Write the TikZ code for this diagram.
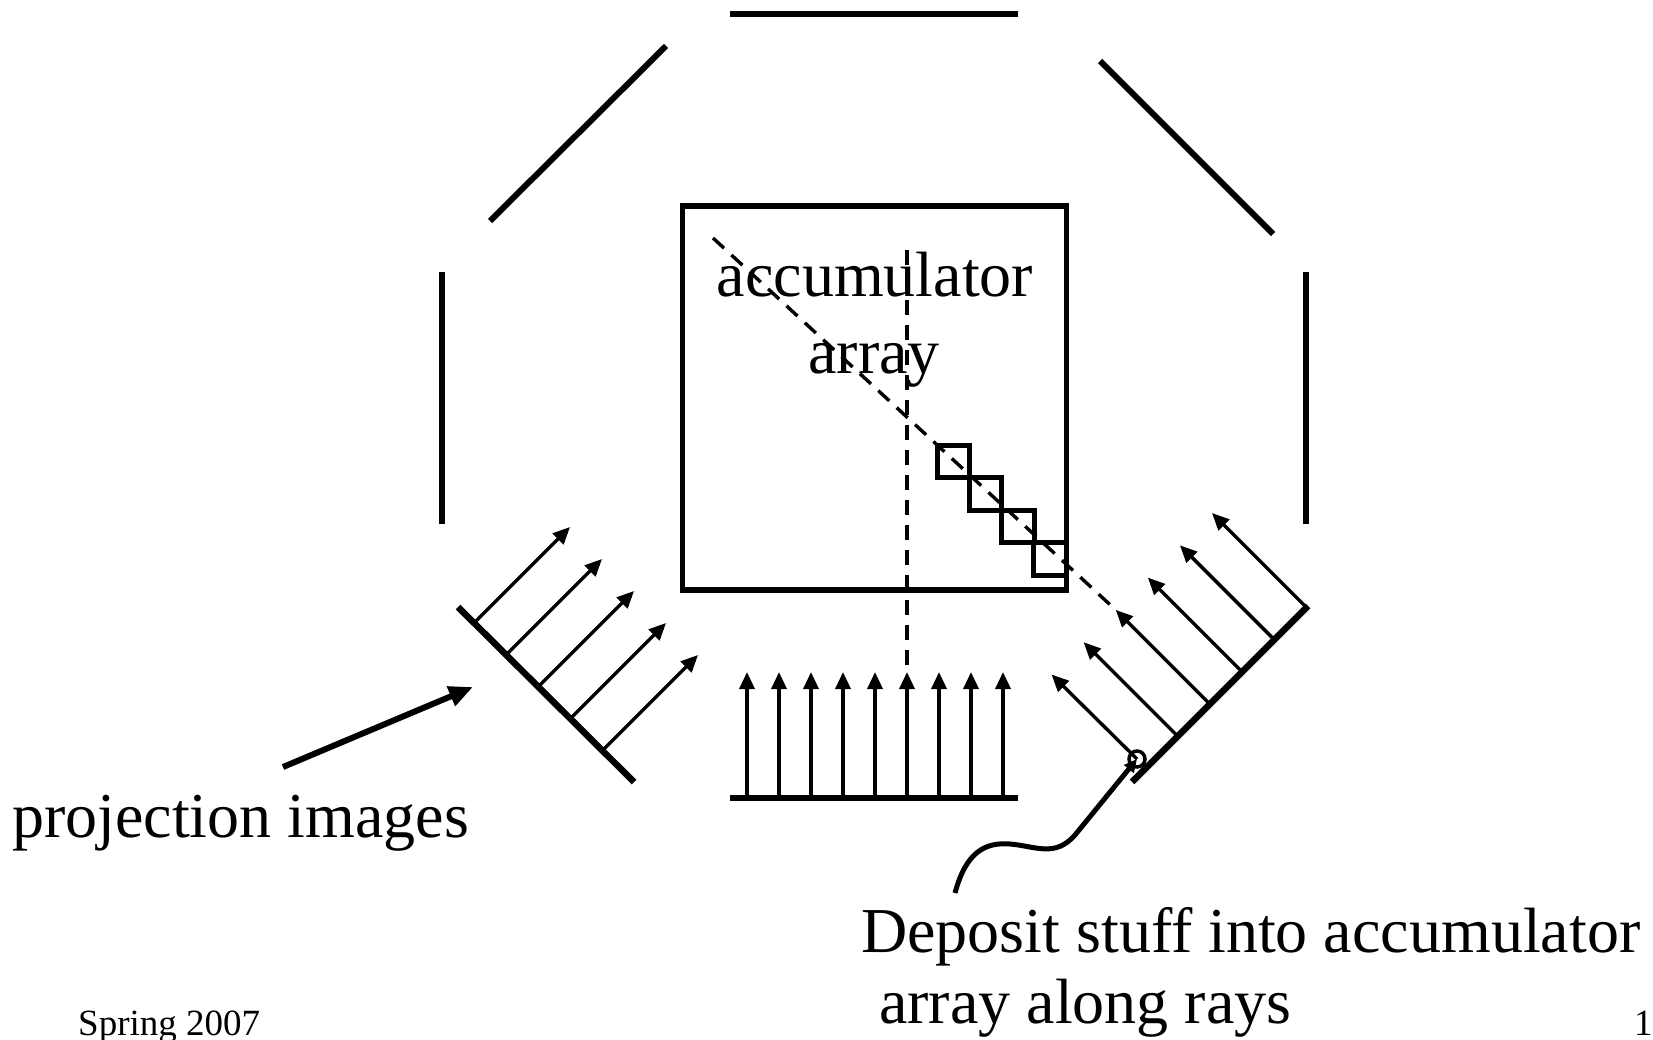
\documentclass[tikz,border=0pt]{standalone}
\usepackage{fontspec}
\setmainfont{Liberation Serif}
\usetikzlibrary{arrows.meta,calc}
\begin{document}
\begin{tikzpicture}[x=1pt,y=-1pt,
  seg/.style={line width=6pt},
  det/.style={line width=6.5pt},
  ray/.style={line width=3.4pt,-{Triangle[length=17pt,width=15pt]}},
  dray/.style={line width=3.4pt,dash pattern=on 15pt off 10pt},
  pix/.style={line width=5pt},
  lbl/.style={inner sep=0pt,font=\fontsize{64}{72}\selectfont},
  small/.style={inner sep=0pt,font=\fontsize{37}{40}\selectfont},
  pointer/.style={line width=6pt,-{Triangle[length=24pt,width=20pt]}},
  wavy/.style={line width=5pt,-{Triangle[length=13pt,width=12pt]}}]
\useasboundingbox (0,0) rectangle (1653,1040);

% octagon frame segments
\coordinate (t1) at (730,14);   \coordinate (t2) at (1018,14);
\coordinate (ul1) at (490,221); \coordinate (ul2) at (666,46);
\coordinate (ur1) at (1100,61); \coordinate (ur2) at (1273,234);
\coordinate (l1) at (442,272);  \coordinate (l2) at (442,524);
\coordinate (r1) at (1306,272); \coordinate (r2) at (1306,524);
\draw[seg] (t1) -- (t2);
\draw[seg] (ul1) -- (ul2);
\draw[seg] (ur1) -- (ur2);
\draw[seg] (l1) -- (l2);
\draw[seg] (r1) -- (r2);

% detectors
\coordinate (dl1) at (458,607);  \coordinate (dl2) at (634,782);
\coordinate (db1) at (730,798);  \coordinate (db2) at (1018,798);
\coordinate (dr1) at (1308,606); \coordinate (dr2) at (1132,782);
\draw[det] (dl1) -- (dl2);
\draw[det] (db1) -- (db2);
\draw[det] (dr1) -- (dr2);

% accumulator box
\node[draw,line width=5.5pt,minimum width=384pt,minimum height=384pt,inner sep=0pt] (box) at (874.5,398) {};

% pixels along ray
\foreach \k in {0,...,3}{
  \draw[pix] ({937+32.3*\k},{445+32.5*\k}) rectangle ++(32.5,32.5);
}

% lower-left rays
\foreach \k in {0,...,4}{
  \coordinate (llt\k) at ({570+32*\k},{527+32*\k});
  \coordinate (llb\k) at ($(llt\k)+(-95.5,95.5)$);
  \draw[ray] (llb\k) -- (llt\k);
}

% bottom rays
\foreach \k in {0,...,8}{
  \coordinate (bt\k) at ({747+32*\k},672);
  \coordinate (bb\k) at ({747+32*\k},798);
  \draw[ray] (bb\k) -- (bt\k);
}

% lower-right rays
\foreach \k in {0,...,4}{
  \coordinate (lrt\k) at ({1212-32.1*\k},{513+32.3*\k});
  \coordinate (lrb\k) at ($(lrt\k)+(94.5,94.5)$);
  \draw[ray] (lrb\k) -- (lrt\k);
}
\coordinate (lrt5) at (1051.5,674.5);
\node[circle,draw,line width=3.5pt,minimum size=16pt,inner sep=0pt] (circ) at (1137,759) {};
\draw[ray] (circ.center) -- (lrt5);

% dashed rays through the accumulator
\coordinate (dv) at (907,250);
\coordinate (dd) at (713,238);
\draw[dray] (dv) -- (bt5);
\draw[dray] (dd) -- (lrt3);

% labels
\node[lbl,anchor=base] (acc1) at (875,297) {accumulator};
\node[lbl,anchor=base] (acc2) at (874,373) {array};
\node[lbl,anchor=base west] (proj) at (12,837) {projection images};
\node[lbl,anchor=base west] (dep1) at (861,952) {Deposit stuff into accumulator};
\node[lbl,anchor=base west] (dep2) at (879,1023) {array along rays};
\node[small,anchor=base west] (spring) at (78,1035) {Spring 2007};
\node[small,anchor=base west] (pg) at (1634,1035) {1};

% pointers
\coordinate (pa) at (283,767);
\coordinate (pb) at (473,687);
\draw[pointer] (pa) -- (pb);

\coordinate (cs) at (955,893);
\draw[wavy] (cs) .. controls (966,852) and (985,842) .. (1010,844)
  .. controls (1035,846) and (1055,858) .. (1075,835) -- (circ.center);
\end{tikzpicture}
\end{document}
